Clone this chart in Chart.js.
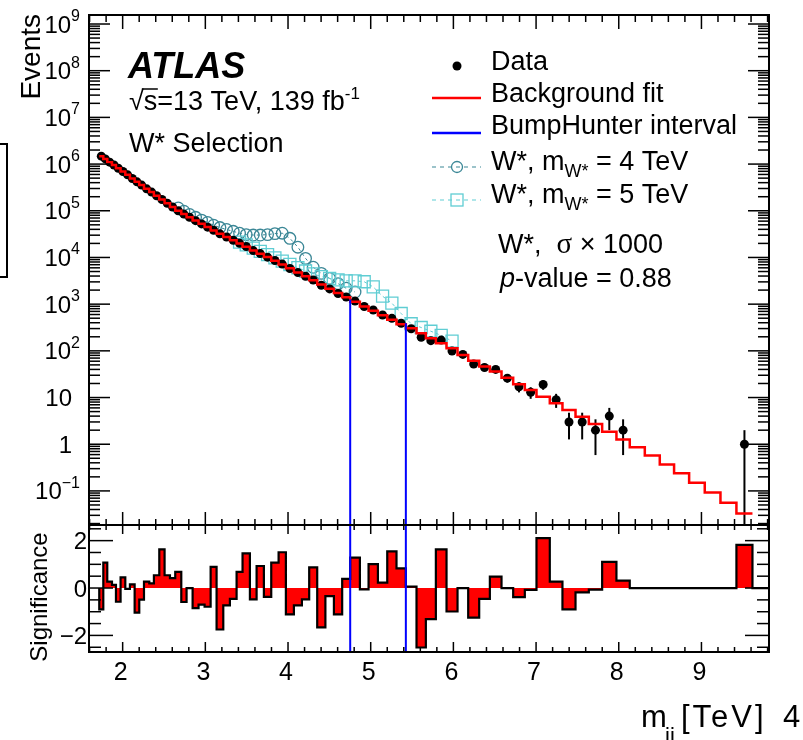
<!DOCTYPE html>
<html>
<head>
<meta charset="utf-8">
<title>ATLAS W* selection - BumpHunter</title>
<script src="https://cdn.jsdelivr.net/npm/chart.js@4.4.1/dist/chart.umd.min.js"></script>
<style>
html,body{margin:0;padding:0;background:#fff;}
#wrap{position:relative;width:803px;height:740px;overflow:hidden;background:#fff;}
#wrap canvas{position:absolute;left:0;top:0;}
#cutbox{position:absolute;left:-10px;top:143px;width:14px;height:131px;border:2px solid #000;}
</style>
</head>
<body>
<div id="wrap">
  <div id="cutbox"></div>
  <canvas id="upper" width="803" height="740"></canvas>
  <canvas id="lower" width="803" height="740"></canvas>
</div>
<script>
// ---------------- data ----------------
// bin edges of m_jj [TeV]
const binEdges = [1.717,1.766,1.814,1.871,1.919,1.975,2.032,2.088,2.145,2.201,
  2.258,2.322,2.378,2.443,2.507,2.572,2.636,2.709,2.773,2.846,
  2.918,2.991,3.064,3.136,3.217,3.297,3.378,3.450,3.539,3.620,
  3.708,3.797,3.886,3.974,4.071,4.168,4.256,4.353,4.452,4.555,
  4.655,4.752,4.869,4.974,5.087,5.200,5.312,5.425,5.554,5.667,
  5.788,5.917,6.050,6.179,6.312,6.441,6.582,6.723,6.864,7.005,
  7.166,7.319,7.477,7.638,7.799,7.972,8.133,8.315,8.496,8.669,
  8.851,9.040,9.230,9.423,9.617,9.817];

// background fit (events per bin)
const bkgFit = [1480000,1290000,1100000,955000,813000,692000,589000,490000,417000,355000,
  295000,251000,209000,174000,145000,120000,100000,85100,72400,61700,
  52500,44700,38000,32400,27500,23400,20000,17000,14100,12000,
  10200,8510,7080,5890,4790,3980,3240,2630,2140,1740,
  1410,1120,891,724,580,465,372,303,237,185,
  145,113,81,61,46,36,26.5,19.2,14.5,10.4,
  7.5,5.4,3.9,2.7,1.85,1.27,0.86,0.57,0.37,0.24,
  0.15,0.093,0.056,0.033];

// observed data (events per bin)
const dataCounts = [1478905,1291215,1100283,955127,812477,692374,588969,490105,416328,354708,
  295147,251100,209247,174680,145206,120145,100215,84928,72400,61489,
  52340,44533,38174,32085,27379,23330,20096,17190,14043,12102,
  10163,8608,7207,5805,4740,3950,3290,2545,2124,1694,
  1425,1162,889,751,585,497,388,298,195,165,
  170,99,84,52,44,40,26,17,13,19,
  9,3,3,2,4,2,0,0,0,0,
  0,0,0,1];

// significance per bin (lower panel)
const significance = [-0.90,1.07,0.27,0.13,-0.58,0.45,-0.04,0.15,-1.04,-0.49,
  0.27,0.20,0.54,1.63,0.54,0.42,0.68,-0.59,0.00,-0.85,
  -0.70,-0.79,0.89,-1.75,-0.73,-0.46,0.68,1.46,-0.48,0.93,
  -0.37,1.07,1.51,-1.11,-0.73,-0.48,0.87,-1.66,-0.34,-1.11,
  0.39,1.28,-0.06,1.01,0.23,1.55,0.83,0.06,-2.51,-1.31,
  1.63,-0.99,0.00,-1.25,-0.46,0.48,0.00,-0.38,-0.08,2.11,
  0.27,-0.90,-0.18,-0.07,1.10,0.31,0,0,0,0,
  0,0,0,1.82,0];

// injected W* signals (signal + background), first bin index and values
const w4First = 16;
const w4Values = [115000,97700,83200,72400,63100,56200,49000,43700,39800,36300,
  33100,30900,30200,30200,30900,32400,33100,25700,16600,9550,
  6170,4570,3550,2750,2190,1820];
const w5First = 26;
const w5Values = [21400,18600,15800,13500,11500,9770,8320,7080,6030,5130,
  4470,3890,3550,3310,3160,3160,3020,2340,1480,1050,
  630,380,316,263,214,162];

// BumpHunter interval [TeV] and the level where its lines start
const bumpInterval = [4.752, 5.425];
const bumpTop = [1260, 390];

// axis ticks
const xTickLabels = [2,3,4,5,6,7,8,9];
const yDecades = [-1,0,1,2,3,4,5,6,7,8,9];
const sigTickLabels = [2,0,-2];

// ---------------- derived tables for the library ----------------
const FONT = '"Liberation Sans", Arial, Helvetica, sans-serif';
const SERIF = '"Liberation Serif", "Times New Roman", serif';
const C4 = '#3b8796';
const C5 = '#5fcdd3';
const nB = bkgFit.length;
const centers = binEdges.slice(0, -1).map((e, i) => (e + binEdges[i + 1]) / 2);

const bkgPts = bkgFit.map((v, i) => ({x: binEdges[i], y: v}));
bkgPts.push({x: binEdges[nB], y: bkgFit[nB - 1]});
const dataPts = dataCounts.map((n, i) => ({x: centers[i], y: n > 0 ? n : null}));
const w4Pts = w4Values.map((v, i) => ({x: centers[w4First + i], y: v}));
const w5Pts = w5Values.map((v, i) => ({x: centers[w5First + i], y: v}));
const sigPts = [{x: binEdges[0], y: 0}];
significance.forEach((s, i) => sigPts.push({x: binEdges[i], y: s}));
sigPts.push({x: binEdges[significance.length], y: 0});

const X_MIN = 1.593, X_MAX = 9.817;
const Y_MIN = Math.pow(10, -1.73), Y_MAX = Math.pow(10, 9.193);
const S_MIN = -2.70, S_MAX = 2.66;

function seg(ctx, x1, y1, x2, y2) { ctx.beginPath(); ctx.moveTo(x1, y1); ctx.lineTo(x2, y2); ctx.stroke(); }
function rich(ctx, parts, x, y) {
  let cx = x;
  parts.forEach(p => { ctx.font = p.f; ctx.fillText(p.t, cx, y + (p.dy || 0)); cx += ctx.measureText(p.t).width; });
  return cx;
}
function xTickList() { const o = []; for (let k = 8; k <= 49; k++) o.push({v: k / 5, major: k % 5 === 0}); return o; }

// ---------------- upper panel ----------------
const upperDecor = {
  id: 'upperDecor',
  beforeDatasetsDraw(chart) {
    const {ctx, chartArea: a, scales: {x, y}} = chart;
    ctx.save();
    ctx.beginPath(); ctx.rect(a.left, a.top, a.right - a.left, a.bottom - a.top); ctx.clip();
    ctx.strokeStyle = '#000'; ctx.lineWidth = 2;
    dataCounts.forEach((n, i) => {
      if (!n) return;
      const e = Math.sqrt(n);
      const px = x.getPixelForValue(centers[i]);
      const yt = y.getPixelForValue(n + e);
      const yb = (n - e) > 0 ? y.getPixelForValue(n - e) : a.bottom + 5;
      seg(ctx, px, yt, px, yb);
    });
    ctx.restore();
  },
  afterDraw(chart) {
    const {ctx, chartArea: a, scales: {x, y}} = chart;
    ctx.save();
    ctx.strokeStyle = '#000'; ctx.fillStyle = '#000';
    ctx.lineWidth = 1.5;
    xTickList().forEach(t => {
      const px = x.getPixelForValue(t.v);
      seg(ctx, px, a.top, px, a.top + (t.major ? 14 : 7));
      seg(ctx, px, a.bottom, px, a.bottom - (t.major ? 13 : 6));
    });
    for (let d = -2; d <= 9; d++) for (let m = 1; m <= 9; m++) {
      const v = m * Math.pow(10, d);
      if (v < Y_MIN || v > Y_MAX) continue;
      const py = y.getPixelForValue(v);
      const L = m === 1 ? 21 : 11;
      seg(ctx, a.left, py, a.left + L, py);
      seg(ctx, a.right, py, a.right - L, py);
    }
    ctx.lineWidth = 2;
    ctx.strokeRect(a.left, a.top, a.right - a.left, a.bottom - a.top);

    // y labels
    ctx.textBaseline = 'alphabetic'; ctx.textAlign = 'left';
    yDecades.forEach(d => {
      const py = y.getPixelForValue(Math.pow(10, d));
      const base = d === 0 ? '1' : '10';
      ctx.font = `24px ${FONT}`; const wb = ctx.measureText(base).width;
      let sup = null, ws = 0;
      if (d !== 0 && d !== 1) { sup = d < 0 ? '\u2212' + String(-d) : String(d); ctx.font = `16px ${FONT}`; ws = ctx.measureText(sup).width; }
      const right = sup ? 80 : 72;
      const bx = right - ws - wb;
      ctx.font = `24px ${FONT}`; ctx.fillText(base, bx, py + 8.5);
      if (sup) { ctx.font = `16px ${FONT}`; ctx.fillText(sup, bx + wb, py - 3); }
    });
    // y title
    ctx.save(); ctx.translate(40, 14); ctx.rotate(-Math.PI / 2);
    ctx.textAlign = 'right'; ctx.font = `28px ${FONT}`; ctx.fillText('Events', 0, 0);
    ctx.restore();

    // ATLAS labels
    ctx.textAlign = 'left';
    ctx.font = `italic bold 36px ${FONT}`; ctx.fillText('ATLAS', 128, 78);
    ctx.font = `27px ${FONT}`;
    ctx.fillText('\u221A', 129, 110);
    const rx = 129 + ctx.measureText('\u221A').width;
    rich(ctx, [{t: 's=13 TeV, 139 fb', f: `27px ${FONT}`}, {t: '-1', f: `17px ${FONT}`, dy: -11}], rx, 110);
    ctx.lineWidth = 1.5; seg(ctx, rx - 2, 89, rx + 14, 89);
    ctx.font = `27px ${FONT}`; ctx.fillText('W* Selection', 129, 152);

    // legend
    const LX = 491, SX = 457;
    ctx.beginPath(); ctx.arc(SX, 66, 4.5, 0, 2 * Math.PI); ctx.fill();
    ctx.font = `27px ${FONT}`; ctx.fillText('Data', LX, 70);
    ctx.strokeStyle = '#ff0000'; ctx.lineWidth = 2.5; seg(ctx, 432, 98, 481, 98);
    ctx.fillText('Background fit', LX, 102);
    ctx.strokeStyle = '#0000ff'; ctx.lineWidth = 2.5; seg(ctx, 432, 133, 481, 133);
    ctx.fillText('BumpHunter interval', LX, 134);
    ctx.strokeStyle = C4; ctx.lineWidth = 1; ctx.setLineDash([4, 4]); seg(ctx, 432, 167, 481, 167); ctx.setLineDash([]);
    ctx.lineWidth = 1.3; ctx.beginPath(); ctx.arc(SX, 167, 5.5, 0, 2 * Math.PI); ctx.stroke();
    ctx.strokeStyle = C5; ctx.lineWidth = 1; ctx.setLineDash([4, 4]); seg(ctx, 432, 200, 481, 200); ctx.setLineDash([]);
    ctx.lineWidth = 1.3; ctx.strokeRect(SX - 6, 194, 12, 12);
    ctx.fillStyle = '#000';
    rich(ctx, [{t: 'W*, m', f: `27px ${FONT}`}, {t: 'W*', f: `18px ${FONT}`, dy: 7}, {t: ' = 4 TeV', f: `27px ${FONT}`}], LX, 170);
    rich(ctx, [{t: 'W*, m', f: `27px ${FONT}`}, {t: 'W*', f: `18px ${FONT}`, dy: 7}, {t: ' = 5 TeV', f: `27px ${FONT}`}], LX, 203);
    rich(ctx, [{t: 'W*,  ', f: `27px ${FONT}`}, {t: '\u03C3', f: `29px ${SERIF}`}, {t: ' \u00D7 1000', f: `27px ${FONT}`}], 498, 253);
    rich(ctx, [{t: 'p', f: `italic 27px ${FONT}`}, {t: '-value = 0.88', f: `27px ${FONT}`}], 500, 287);
    ctx.restore();
  }
};

new Chart(document.getElementById('upper'), {
  type: 'line',
  data: {
    datasets: [
      {label: 'BH low', data: [{x: bumpInterval[0], y: bumpTop[0]}, {x: bumpInterval[0], y: 1e-4}], borderColor: '#0000ff', borderWidth: 2, pointRadius: 0, order: 0},
      {label: 'BH high', data: [{x: bumpInterval[1], y: bumpTop[1]}, {x: bumpInterval[1], y: 1e-4}], borderColor: '#0000ff', borderWidth: 2, pointRadius: 0, order: 0},
      {label: 'Background fit', data: bkgPts, stepped: true, borderColor: '#ff0000', borderWidth: 2.5, pointRadius: 0, fill: false, order: 1},
      {label: 'Data', data: dataPts, showLine: false, pointRadius: 4.5, pointBackgroundColor: '#000', pointBorderWidth: 0, order: 2},
      {label: 'W*, m = 5 TeV', data: w5Pts, borderColor: C5, borderWidth: 1, borderDash: [3, 3], pointStyle: 'rect', pointRadius: 8.5, pointBorderWidth: 1.3, pointBorderColor: C5, pointBackgroundColor: 'rgba(0,0,0,0)', order: 3},
      {label: 'W*, m = 4 TeV', data: w4Pts, borderColor: C4, borderWidth: 1, borderDash: [3, 3], pointStyle: 'circle', pointRadius: 5.8, pointBorderWidth: 1.3, pointBorderColor: C4, pointBackgroundColor: 'rgba(0,0,0,0)', order: 4}
    ]
  },
  options: {
    responsive: false, animation: false, devicePixelRatio: 1,
    layout: {padding: {left: 89, right: 34, top: 15, bottom: 215}},
    plugins: {legend: {display: false}, tooltip: {enabled: false}},
    scales: {
      x: {type: 'linear', min: X_MIN, max: X_MAX, display: false},
      y: {type: 'logarithmic', min: Y_MIN, max: Y_MAX, display: false}
    }
  },
  plugins: [upperDecor]
});

// ---------------- lower panel ----------------
const lowerDecor = {
  id: 'lowerDecor',
  afterDraw(chart) {
    const {ctx, chartArea: a, scales: {x, y}} = chart;
    ctx.save();
    ctx.strokeStyle = '#000'; ctx.fillStyle = '#000'; ctx.lineWidth = 1.5;
    xTickList().forEach(t => {
      const px = x.getPixelForValue(t.v);
      seg(ctx, px, a.top, px, a.top + (t.major ? 9 : 5));
      seg(ctx, px, a.bottom, px, a.bottom - (t.major ? 10 : 5));
    });
    for (let k = -5; k <= 5; k++) {
      const v = k / 2; const py = y.getPixelForValue(v);
      const L = (k % 4 === 0) ? 24 : 12;
      seg(ctx, a.left, py, a.left + L, py);
      seg(ctx, a.right, py, a.right - L, py);
    }
    ctx.lineWidth = 2;
    ctx.strokeRect(a.left, a.top, a.right - a.left, a.bottom - a.top);

    ctx.font = `24px ${FONT}`; ctx.textBaseline = 'alphabetic';
    ctx.textAlign = 'right';
    sigTickLabels.forEach(v => {
      const py = y.getPixelForValue(v);
      ctx.fillText(v < 0 ? '\u2212' + String(-v) : String(v), 87, py + 8.5);
    });
    ctx.textAlign = 'center'; ctx.font = `25px ${FONT}`;
    xTickLabels.forEach(v => ctx.fillText(String(v), x.getPixelForValue(v) - 2, 680));

    ctx.save(); ctx.translate(47, 597); ctx.rotate(-Math.PI / 2);
    ctx.textAlign = 'center'; ctx.font = `24px ${FONT}`; ctx.fillText('Significance', 0, 0);
    ctx.restore();

    // x-axis title (its subscript is cut by the bottom edge, as in the figure)
    ctx.textAlign = 'left';
    ctx.font = `31px ${FONT}`; ctx.fillText('m', 641, 727);
    ctx.font = `22px ${FONT}`; ctx.fillText('jj', 665, 743);
    ctx.font = `31px ${FONT}`;
    if ('letterSpacing' in ctx) ctx.letterSpacing = '3px';
    ctx.fillText('[TeV]', 681, 727);
    if ('letterSpacing' in ctx) ctx.letterSpacing = '0px';
    ctx.fillText('4', 783, 727);
    ctx.restore();
  }
};

new Chart(document.getElementById('lower'), {
  type: 'line',
  data: {
    datasets: [
      {label: 'BH low', data: [{x: bumpInterval[0], y: -10}, {x: bumpInterval[0], y: 10}], borderColor: '#0000ff', borderWidth: 2, pointRadius: 0, order: 0},
      {label: 'BH high', data: [{x: bumpInterval[1], y: -10}, {x: bumpInterval[1], y: 10}], borderColor: '#0000ff', borderWidth: 2, pointRadius: 0, order: 0},
      {label: 'Significance', data: sigPts, stepped: true, fill: 'origin', backgroundColor: '#ff0000', borderColor: '#000', borderWidth: 2.2, pointRadius: 0, order: 1}
    ]
  },
  options: {
    responsive: false, animation: false, devicePixelRatio: 1,
    layout: {padding: {left: 89, right: 34, top: 525, bottom: 88}},
    plugins: {legend: {display: false}, tooltip: {enabled: false}, filler: {propagate: false}},
    scales: {
      x: {type: 'linear', min: X_MIN, max: X_MAX, display: false},
      y: {type: 'linear', min: S_MIN, max: S_MAX, display: false}
    }
  },
  plugins: [lowerDecor]
});
</script>
</body>
</html>
